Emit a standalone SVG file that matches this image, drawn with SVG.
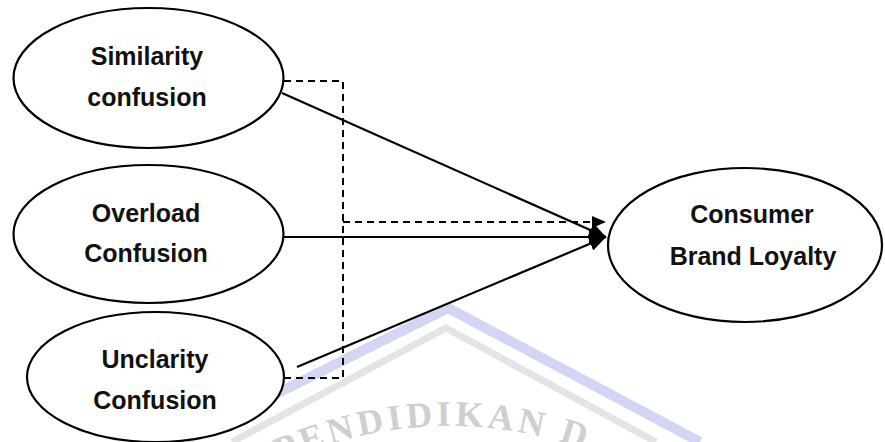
<svg xmlns="http://www.w3.org/2000/svg" width="885" height="442" viewBox="0 0 885 442">
  <style>
    .node ellipse { fill: #ffffff; stroke: #000000; stroke-width: 2.2; }
    .label { font-family: "Liberation Sans", Arial, sans-serif; font-weight: bold; font-size: 25px; fill: #111111; text-anchor: middle; }
    .solid { stroke: #000000; stroke-width: 2.2; fill: none; }
    .dash { stroke: #000000; stroke-width: 2; fill: none; stroke-dasharray: 7 5; }
    .wm { font-family: "Liberation Serif", "Times New Roman", serif; font-size: 36px; font-weight: bold; fill: #cfcfcf; letter-spacing: 4px; }
  </style>
  <defs>
    <marker id="arrow" markerUnits="userSpaceOnUse" markerWidth="17" markerHeight="15" refX="17" refY="7.5" orient="auto">
      <path d="M0,0 L17,7.5 L0,15 z" fill="#000000"/>
    </marker>
    <marker id="arrowSmall" markerUnits="userSpaceOnUse" markerWidth="14" markerHeight="12" refX="14" refY="6" orient="auto">
      <path d="M0,0 L14,6 L0,12 z" fill="#000000"/>
    </marker>
    <path id="wmArc" d="M 260 472 Q 450 380 640 472"/>
  </defs>
  <rect width="885" height="442" fill="#ffffff"/>

  <g id="watermark">
    <polyline points="180,442 448,308 700,442" fill="none" stroke="#d2d5f4" stroke-width="10"/>
    <polyline points="232,442 446,328 656,442" fill="none" stroke="#e3e3e8" stroke-width="7"/>
    <text class="wm"><textPath href="#wmArc" startOffset="22">PENDIDIKAN D</textPath></text>
  </g>

  <g id="connectors">
    <polyline class="dash" points="284,81 343,81 343,378 284,378"/>
    <line class="dash" x1="343" y1="222" x2="606" y2="222" marker-end="url(#arrowSmall)"/>
    <line class="solid" x1="282" y1="93" x2="606" y2="237" marker-end="url(#arrow)"/>
    <line class="solid" x1="284" y1="237" x2="606" y2="237" marker-end="url(#arrow)"/>
    <line class="solid" x1="297" y1="367" x2="606" y2="237" marker-end="url(#arrow)"/>
  </g>

  <g id="similarity" class="node">
    <ellipse cx="148.5" cy="78" rx="135" ry="70"/>
    <text class="label" x="147" y="65">Similarity</text>
    <text class="label" x="147" y="106">confusion</text>
  </g>

  <g id="overload" class="node">
    <ellipse cx="148.5" cy="234" rx="135" ry="69"/>
    <text class="label" x="146" y="222">Overload</text>
    <text class="label" x="146" y="262">Confusion</text>
  </g>

  <g id="unclarity" class="node">
    <ellipse cx="155.5" cy="377" rx="128.5" ry="65"/>
    <text class="label" x="155" y="368">Unclarity</text>
    <text class="label" x="155" y="409">Confusion</text>
  </g>

  <g id="consumer" class="node">
    <ellipse cx="745" cy="245" rx="137" ry="77"/>
    <text class="label" x="752" y="223">Consumer</text>
    <text class="label" x="753" y="265">Brand Loyalty</text>
  </g>
</svg>
